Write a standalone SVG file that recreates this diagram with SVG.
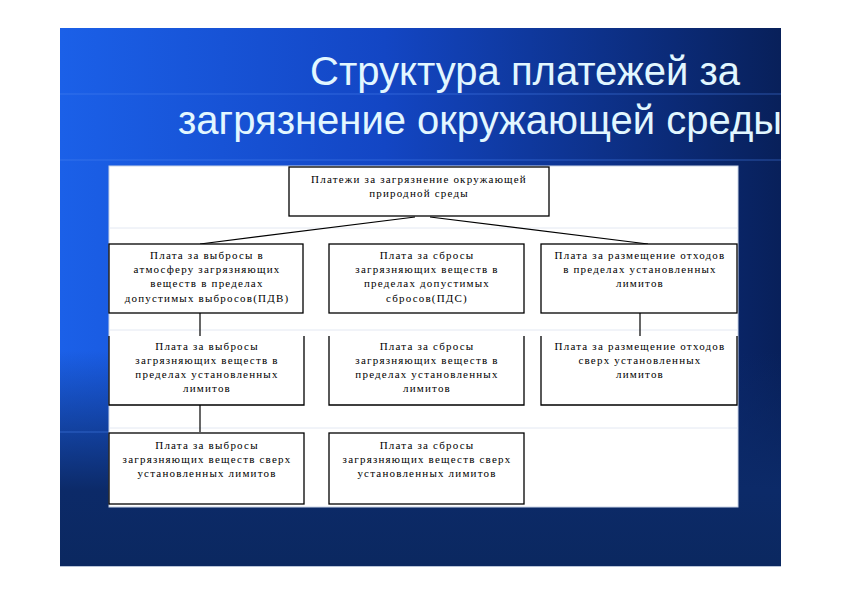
<svg xmlns="http://www.w3.org/2000/svg" width="842" height="595" viewBox="0 0 842 595">
<defs>
<linearGradient id="bgH" x1="0" y1="0" x2="1" y2="0">
<stop offset="0" stop-color="#1b60e8"/>
<stop offset="0.45" stop-color="#1346c4"/>
<stop offset="1" stop-color="#08205a"/>
</linearGradient>
<linearGradient id="bgV" x1="0" y1="0" x2="0" y2="1">
<stop offset="0" stop-color="#0c2a68" stop-opacity="0"/>
<stop offset="0.6" stop-color="#0c2a68" stop-opacity="0"/>
<stop offset="0.86" stop-color="#0c2a68" stop-opacity="1"/>
<stop offset="1" stop-color="#0b2860" stop-opacity="1"/>
</linearGradient>
<clipPath id="slideClip"><rect x="60" y="28" width="721" height="538"/></clipPath>
</defs>
<style>
.box{fill:#ffffff;stroke:#000000;stroke-width:1.3}
.open{fill:#ffffff;stroke:#000000;stroke-width:1.3}
.t{font-family:"Liberation Serif","Times New Roman",serif;font-size:11px;letter-spacing:1.2px;fill:#000000;text-anchor:middle}
.title{font-family:"Liberation Sans",Arial,sans-serif;font-size:40px;fill:#e2f7ff}
.conn{stroke:#000000;stroke-width:1.2;fill:none}
.grid{stroke:#4d84f0;stroke-opacity:0.5;stroke-width:1}
.gridw{stroke:#e3e8f2;stroke-width:1}
</style>
<rect width="842" height="595" fill="#ffffff"/>
<g id="slide" clip-path="url(#slideClip)">
<rect x="60" y="28" width="721" height="538" fill="url(#bgH)"/>
<rect x="60" y="28" width="721" height="538" fill="url(#bgV)"/>
<line class="grid" x1="60" y1="94" x2="781" y2="94"/>
<line class="grid" x1="60" y1="160" x2="781" y2="160"/>
<line class="grid" x1="60" y1="432" x2="109" y2="432"/>
<text class="title" x="310" y="85">Структура платежей за</text>
<text class="title" x="178" y="134">загрязнение окружающей среды</text>
<rect x="109" y="166" width="629" height="341" fill="#ffffff" stroke="#c9d3e6" stroke-width="1"/>
<line class="gridw" x1="109" y1="228" x2="738" y2="228"/>
<line class="gridw" x1="109" y1="330" x2="738" y2="330"/>
<line class="gridw" x1="109" y1="428" x2="738" y2="428"/>
</g>
<line x1="60" y1="566.5" x2="781" y2="566.5" stroke="#b8c4d8" stroke-width="1"/>
<g id="connectors">
<line class="conn" x1="415" y1="217" x2="200" y2="244"/>
<line class="conn" x1="430" y1="217" x2="648" y2="244"/>
<line class="conn" x1="200" y1="313" x2="200" y2="336"/>
<line class="conn" x1="640" y1="313" x2="640" y2="336"/>
<line class="conn" x1="200" y1="405" x2="200" y2="432"/>
</g>
<g id="root">
<rect class="box" x="289" y="167" width="260" height="49"/>
<text class="t" x="419" y="183">Платежи за загрязнение окружающей</text>
<text class="t" x="419" y="197">природной среды</text>
</g>
<g id="n-pdv">
<rect class="box" x="109" y="244" width="194" height="69"/>
<text class="t" x="207" y="259">Плата за выбросы в</text>
<text class="t" x="207" y="273">атмосферу загрязняющих</text>
<text class="t" x="207" y="287">веществ в пределах</text>
<text class="t" x="207" y="302">допустимых выбросов(ПДВ)</text>
</g>
<g id="n-pds">
<rect class="box" x="329" y="244" width="195" height="69"/>
<text class="t" x="427" y="259">Плата за сбросы</text>
<text class="t" x="427" y="273">загрязняющих веществ в</text>
<text class="t" x="427" y="287">пределах допустимых</text>
<text class="t" x="427" y="302">сбросов(ПДС)</text>
</g>
<g id="n-waste-lim">
<rect class="box" x="541" y="244" width="196" height="69"/>
<text class="t" x="640" y="259">Плата за размещение отходов</text>
<text class="t" x="640" y="273">в пределах установленных</text>
<text class="t" x="640" y="287">лимитов</text>
</g>
<g id="n-emis-lim">
<path class="open" d="M109,336 V405 H304 V336"/>
<text class="t" x="207" y="350">Плата за выбросы</text>
<text class="t" x="207" y="364">загрязняющих веществ в</text>
<text class="t" x="207" y="378">пределах установленных</text>
<text class="t" x="207" y="392">лимитов</text>
</g>
<g id="n-disch-lim">
<path class="open" d="M329,336 V405 H524 V336"/>
<text class="t" x="427" y="350">Плата за сбросы</text>
<text class="t" x="427" y="364">загрязняющих веществ в</text>
<text class="t" x="427" y="378">пределах установленных</text>
<text class="t" x="427" y="392">лимитов</text>
</g>
<g id="n-waste-over">
<path class="open" d="M541,336 V405 H737 V336"/>
<text class="t" x="640" y="350">Плата за размещение отходов</text>
<text class="t" x="640" y="364">сверх установленных</text>
<text class="t" x="640" y="378">лимитов</text>
</g>
<g id="n-emis-over">
<rect class="box" x="109" y="433" width="195" height="71"/>
<text class="t" x="207" y="449">Плата за выбросы</text>
<text class="t" x="207" y="463">загрязняющих веществ сверх</text>
<text class="t" x="207" y="477">установленных лимитов</text>
</g>
<g id="n-disch-over">
<rect class="box" x="329" y="433" width="195" height="71"/>
<text class="t" x="427" y="449">Плата за сбросы</text>
<text class="t" x="427" y="463">загрязняющих веществ сверх</text>
<text class="t" x="427" y="477">установленных лимитов</text>
</g>
</svg>
